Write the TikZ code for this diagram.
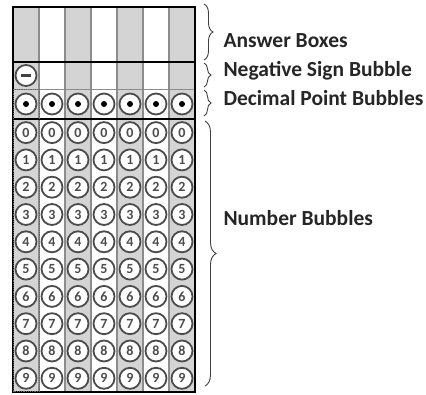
\documentclass[tikz,border=0pt]{standalone}
\usepackage{fontspec}
\newfontfamily\calfont{Carlito}
\usetikzlibrary{calc,decorations.pathreplacing}

\begin{document}
\begin{tikzpicture}[x=1pt, y=-1pt,
  bubble/.style={circle, draw=black!70, line width=1.8pt, fill=white,
                 minimum size=21pt, inner sep=0pt, text=black!70,
                 font=\calfont\bfseries\fontsize{14}{14}\selectfont},
  grid/.style={draw=black!45, line width=1.3pt},
  heavy/.style={line width=2.6pt},
  brace/.style={decorate, decoration={brace, amplitude=#1}, line width=0.9pt, draw=black!75},
  lbl/.style={anchor=west, text=black!85,
              font=\calfont\bfseries\fontsize{21.5}{21.5}\selectfont},
]
  \useasboundingbox (0,0) rectangle (426,394);

  % column shading
  \foreach \c in {1,3,5,7}
    \fill[black!17] ({26*\c-13},7) rectangle ({26*\c+13},392);

  % grid
  \foreach \k in {1,...,6}
    \draw[grid] ({13+26*\k},7) -- ({13+26*\k},392);
  \draw[grid, line width=0.6pt] (13,89) -- (195,89);
  \draw[heavy] (13,62) -- (195,62);
  \draw[heavy] (13,119) -- (195,119);
  \draw[line width=1.3pt] (13,7) rectangle (195,392);
  \draw[black!60, line width=1pt, dash pattern=on 1.2pt off 1pt] (13.5,89) rectangle (39,391.5);

  % negative sign bubble
  \node[bubble] (neg) at (26,75.5) {};
  \fill[black!75] ($(neg.center)+(-5,-1.4)$) rectangle ($(neg.center)+(5,1.4)$);

  % decimal point bubbles
  \foreach \c in {1,...,7} {
    \node[bubble] (dec-\c) at ({26*\c},104) {};
    \fill[black] (dec-\c.center) circle (3);
  }

  % number bubbles
  \foreach \c in {1,...,7}
    \foreach \d in {0,...,9}
      \node[bubble] (num-\c-\d) at ({26*\c},{132.6+27.3*\d}) {\d};

  % braces
  \coordinate (ans-top) at (204,4);
  \coordinate (ans-bot) at (204,60);
  \coordinate (neg-top) at (204,63);
  \coordinate (neg-bot) at (204,87);
  \coordinate (dec-top) at (204,90);
  \coordinate (dec-bot) at (204,116);
  \coordinate (num-top) at (205,121);
  \coordinate (num-bot) at (205,386);

  \draw[brace=9pt] (ans-top) -- (ans-bot);
  \draw[brace=7pt] (neg-top) -- (neg-bot);
  \draw[brace=7pt] (dec-top) -- (dec-bot);
  \draw[brace=11pt] (num-top) -- (num-bot);

  \node[lbl] (ans-lbl) at (220,41) {Answer Boxes};
  \node[lbl] (neg-lbl) at (220,71) {Negative Sign Bubble};
  \node[lbl] (dec-lbl) at (220,98) {Decimal Point Bubbles};
  \node[lbl] (num-lbl) at (220,218) {Number Bubbles};
\end{tikzpicture}
\end{document}
